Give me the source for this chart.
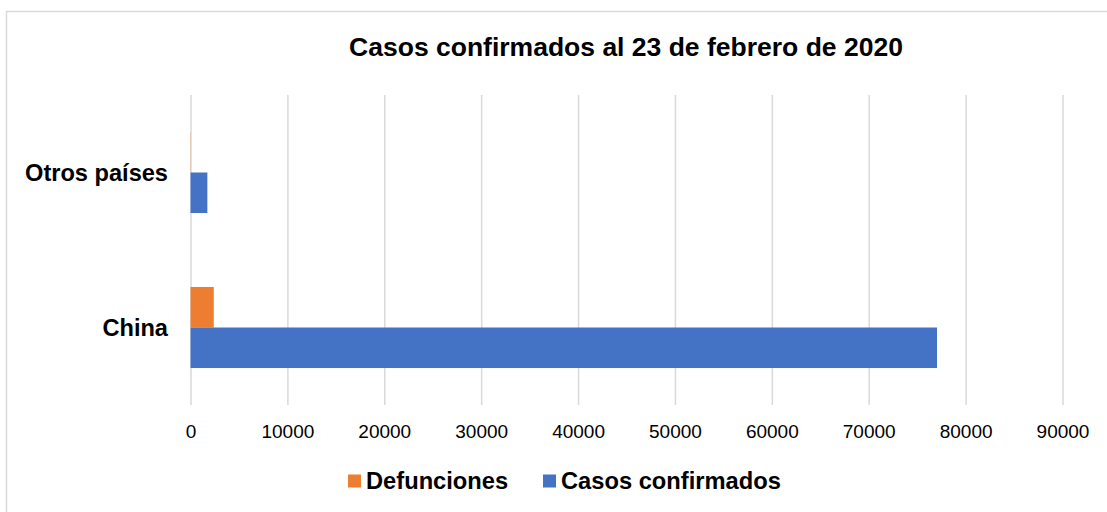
<!DOCTYPE html>
<html>
<head>
<meta charset="utf-8">
<script src="https://cdn.jsdelivr.net/npm/d3@7"></script>
<style>
  body { margin: 0; background: #fff; }
  svg { display: block; font-family: "Liberation Sans", Arial, sans-serif; }
</style>
</head>
<body>
<div id="chart"></div>
<script>
var width = 1107;
var height = 512;
var margin = { top: 95, bottom: 107, right: 44.5, left: 190.5 };

// data
var categories = ["Otros países", "China"];
var seriesNames = ["Defunciones", "Casos confirmados"];
var defunciones = [23, 2400];
var casos = [1740, 77050];
var xTicks = [0, 10000, 20000, 30000, 40000, 50000, 60000, 70000, 80000, 90000];

var colors = { "Defunciones": "#ED7D31", "Casos confirmados": "#4472C4" };

var svg = d3
  .select("#chart")
  .append("svg")
  .attr("width", width)
  .attr("height", height);

// chart area border
svg
  .append("rect")
  .attr("x", 6.5)
  .attr("y", 11.5)
  .attr("width", width)
  .attr("height", height)
  .attr("fill", "none")
  .attr("stroke", "#d9d9d9")
  .attr("stroke-width", 1.5);

var xScale = d3
  .scaleLinear()
  .domain([0, 90000])
  .range([margin.left, width - margin.right]);

var yScale = d3
  .scaleBand()
  .domain(categories)
  .range([margin.top, height - margin.bottom])
  .paddingInner(0.477)
  .paddingOuter(0.2385);

var ySub = d3
  .scaleBand()
  .domain(seriesNames)
  .range([0, yScale.bandwidth()]);

// gridlines + tick labels
var axisx = d3
  .axisBottom(xScale)
  .tickValues(xTicks)
  .tickFormat(d3.format("d"))
  .tickSizeInner(-(height - margin.bottom - margin.top))
  .tickSizeOuter(0)
  .tickPadding(20);

var gx = svg
  .append("g")
  .attr("transform", "translate(0," + (height - margin.bottom) + ")")
  .call(axisx);

gx.select(".domain").remove();
gx.selectAll(".tick line")
  .attr("stroke", "#d9d9d9")
  .attr("stroke-width", 1.5);
gx.selectAll(".tick text")
  .attr("fill", "#000")
  .attr("font-size", "19px")
  .attr("font-family", "Liberation Sans, Arial, sans-serif");

// bars
var rows = categories.map(function(c, i) {
  return [
    { cat: c, serie: "Defunciones", value: defunciones[i] },
    { cat: c, serie: "Casos confirmados", value: casos[i] }
  ];
});

svg
  .append("g")
  .attr("class", "bars")
  .selectAll("g")
  .data(rows)
  .enter()
  .append("g")
  .attr("transform", function(d) {
    return "translate(0," + yScale(d[0].cat) + ")";
  })
  .selectAll("rect")
  .data(function(d) { return d; })
  .enter()
  .append("rect")
  .attr("x", xScale(0))
  .attr("y", function(d) { return ySub(d.serie); })
  .attr("width", function(d) { return xScale(d.value) - xScale(0); })
  .attr("height", ySub.bandwidth())
  .attr("fill", function(d) { return colors[d.serie]; });

// category labels
svg
  .append("g")
  .selectAll("text")
  .data(categories)
  .enter()
  .append("text")
  .attr("x", 168)
  .attr("y", function(d) { return yScale(d) + yScale.bandwidth() / 2; })
  .attr("dy", "0.35em")
  .attr("text-anchor", "end")
  .attr("font-size", "23.6px")
  .attr("font-weight", "bold")
  .text(function(d) { return d; });

// title
svg
  .append("text")
  .attr("x", 626)
  .attr("y", 47)
  .attr("dy", "0.35em")
  .attr("text-anchor", "middle")
  .attr("font-size", "26.5px")
  .attr("font-weight", "bold")
  .text("Casos confirmados al 23 de febrero de 2020");

// legend
var legendX = [348, 543];
var legend = svg
  .append("g")
  .selectAll("g")
  .data(seriesNames)
  .enter()
  .append("g")
  .attr("transform", function(d, i) {
    return "translate(" + legendX[i] + ",481)";
  });

legend
  .append("rect")
  .attr("x", 0)
  .attr("y", -6.5)
  .attr("width", 13)
  .attr("height", 13)
  .attr("fill", function(d) { return colors[d]; });

legend
  .append("text")
  .attr("x", 18)
  .attr("y", 0)
  .attr("dy", "0.35em")
  .attr("font-size", "23.7px")
  .attr("font-weight", "bold")
  .text(function(d) { return d; });
</script>
</body>
</html>
